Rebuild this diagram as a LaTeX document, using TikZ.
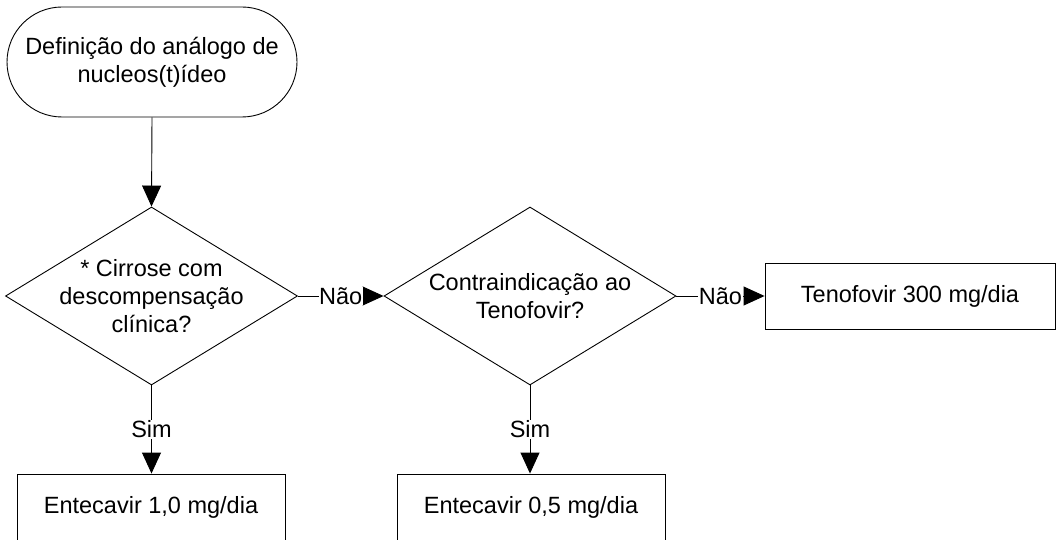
\documentclass[tikz,border=0pt]{standalone}
\usepackage{fontspec}
\setmainfont{Liberation Sans}
\usetikzlibrary{shapes.geometric,arrows.meta}
\begin{document}
\begin{tikzpicture}[x=1pt,y=-1pt,
  every node/.style={font=\fontsize{23.5pt}{28pt}\selectfont},
  startbox/.style={draw,line width=0.9pt,rounded corners=55pt,minimum width=290pt,minimum height=110pt,inner sep=0pt},
  diam/.style={draw,line width=0.9pt,diamond,minimum width=292pt,minimum height=178pt,inner sep=0pt},
  procbox/.style={draw,line width=0.9pt,rectangle,minimum height=66pt,inner sep=0pt},
  txt/.style={align=center,inner sep=0pt},
  arr/.style={line width=0.9pt,-{Triangle[length=21pt,width=19pt]}},
  lbl/.style={fill=white,inner sep=0.6pt}]
\useasboundingbox (0,0) rectangle (1057,540);
\node[startbox,align=center] (start) at (152,62) {Definição do análogo de\\nucleos(t)ídeo};
\node[diam] (d1) at (151.5,296) {};
\node[txt] (d1t) at (151.5,296) {* Cirrose com\\descompensação\\clínica?};
\node[diam] (d2) at (530,296) {};
\node[txt] (d2t) at (530,296) {Contraindicação ao\\Tenofovir?};
\node[procbox,minimum width=290pt] (teno) at (910,296) {Tenofovir 300 mg/dia};
\node[procbox,minimum width=268pt] (ent1) at (151,507) {Entecavir 1,0 mg/dia};
\node[procbox,minimum width=268pt] (ent2) at (531,507) {Entecavir 0,5 mg/dia};
\draw[arr] (start.south) -- (d1.north);
\draw[arr] (d1.east) -- node[lbl]{Não} (d2.west);
\draw[arr] (d2.east) -- node[lbl]{Não} (teno.west);
\draw[arr] (d1.south) -- node[lbl]{Sim} (d1.south |- ent1.north);
\draw[arr] (d2.south) -- node[lbl]{Sim} (d2.south |- ent2.north);
\end{tikzpicture}
\end{document}
